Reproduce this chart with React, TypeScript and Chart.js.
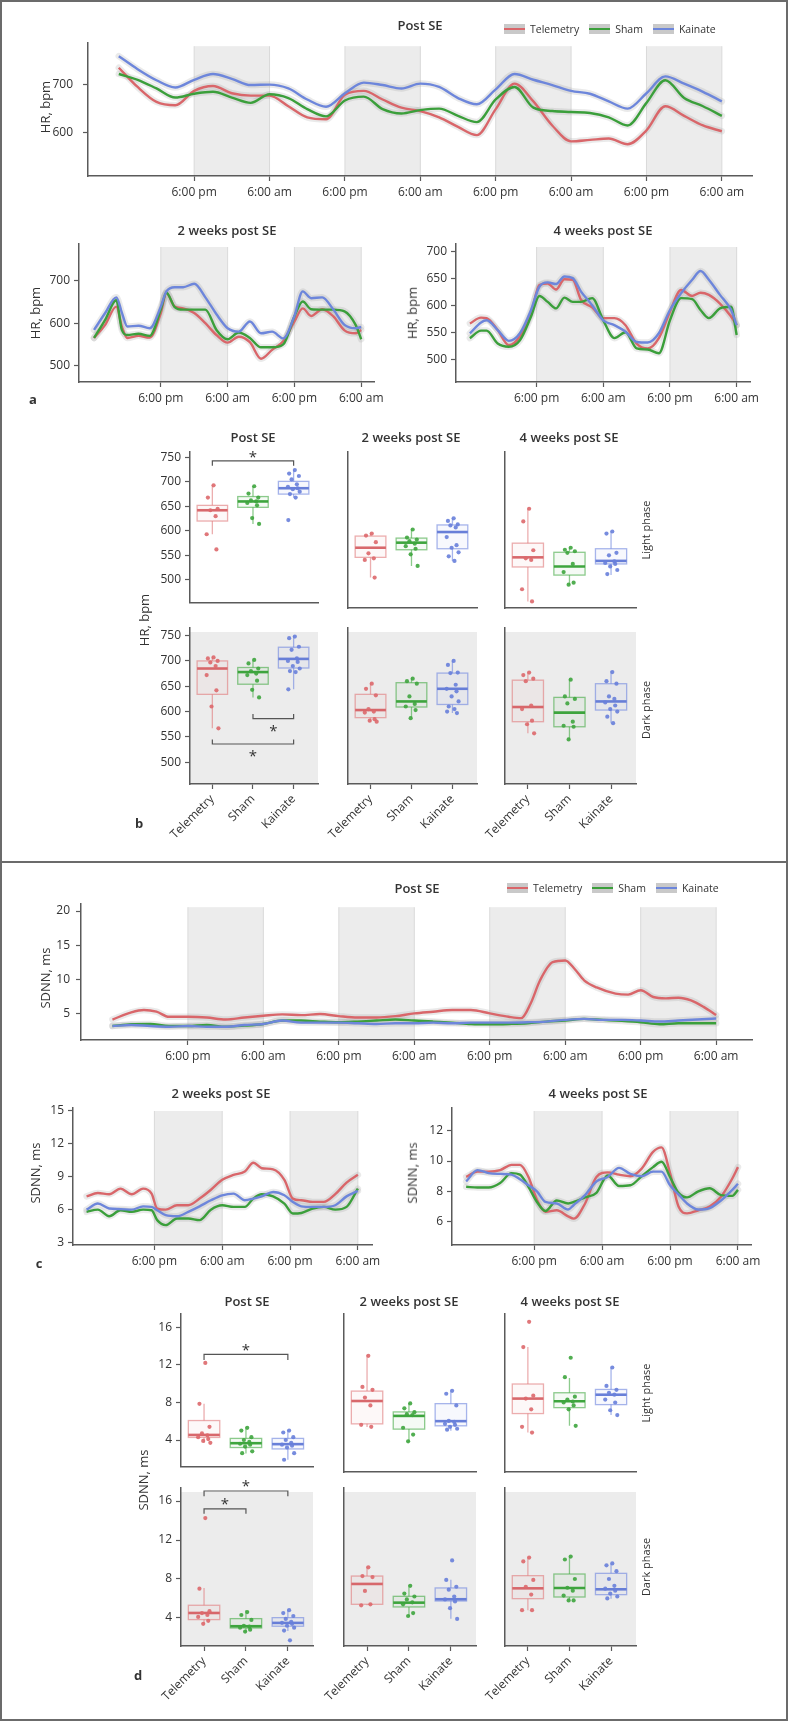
import { useEffect, useRef } from "react";
import { Chart, registerables } from "chart.js";
Chart.register(...registerables);

// ---------- styling constants ----------
const FONT = "'Open Sans', 'DejaVu Sans', Arial, sans-serif";
const INK = "#333333";
const AXIS = "#5a5a5a";
const BAND = "#ececec";
const BAND_EDGE = "#dadada";

const GROUPS = ["Telemetry", "Sham", "Kainate"];
const LINE_COLORS = ["#d9666a", "#3b9f3b", "#6d86db"];
const HALO = "rgba(150,150,150,0.2)";
const POINT_COLORS = ["rgba(221,104,108,0.9)", "rgba(62,165,62,0.9)", "rgba(104,128,218,0.9)"];
const BOX_COLORS = ["rgba(226,130,132,0.65)", "rgba(80,175,80,0.65)", "rgba(120,142,224,0.65)"];
const BOX_FILLS = ["rgba(226,130,132,0.06)", "rgba(80,175,80,0.06)", "rgba(120,142,224,0.06)"];
const MEDIAN_COLORS = ["rgba(214,96,100,0.95)", "rgba(52,160,52,0.95)", "rgba(96,120,214,0.95)"];

// ---------- time axes ----------
const CLOCK_4D_TICKS = [12, 24, 36, 48, 60, 72, 84, 96];
const CLOCK_4D_LABELS = ["6:00 pm", "6:00 am", "6:00 pm", "6:00 am", "6:00 pm", "6:00 am", "6:00 pm", "6:00 am"];
const CLOCK_2D_TICKS = [12, 24, 36, 48];
const CLOCK_2D_LABELS = ["6:00 pm", "6:00 am", "6:00 pm", "6:00 am"];
const NIGHTS_4D = [[12, 24], [36, 48], [60, 72], [84, 96]];
const NIGHTS_2D = [[12, 24], [36, 48]];

// ---------- panel a : HR time courses ----------
const A_TOP_HOURS = [0, 3, 6, 9, 12, 15, 18, 21, 24, 27, 30, 33, 36, 39, 42, 45, 48, 51, 54, 57, 60, 63, 66, 69, 72, 75, 78, 81, 84, 87, 90, 93, 96];
const A_TOP_TEL = [735, 695, 664, 657, 687, 697, 682, 677, 677, 655, 632, 628, 679, 687, 669, 652, 645, 632, 612, 595, 649, 702, 665, 615, 582, 585, 588, 576, 605, 655, 635, 615, 603];
const A_TOP_SHAM = [722, 710, 692, 673, 681, 685, 673, 662, 680, 672, 649, 634, 667, 675, 649, 640, 647, 650, 635, 622, 669, 695, 652, 645, 643, 641, 632, 615, 662, 709, 672, 655, 635];
const A_TOP_KAIN = [759, 732, 709, 694, 710, 722, 712, 699, 700, 692, 669, 654, 682, 704, 699, 692, 702, 695, 672, 659, 690, 722, 710, 699, 687, 681, 665, 650, 682, 717, 702, 685, 665];

const A_LEFT_HOURS = [0, 2, 4, 5, 6, 8, 10, 12, 13, 14.5, 16, 18, 20, 22, 24, 26, 28, 30, 32, 34, 36, 37.5, 39, 41, 43, 45, 47, 48];
const A_LEFT_TEL = [565, 596, 639, 592, 565, 570, 566, 624, 671, 639, 635, 624, 600, 572, 554, 568, 555, 516, 537, 557, 604, 635, 617, 633, 616, 583, 576, 584];
const A_LEFT_SHAM = [565, 608, 654, 584, 572, 575, 570, 632, 672, 638, 632, 632, 632, 584, 562, 578, 565, 543, 543, 550, 616, 651, 633, 632, 632, 628, 596, 562];
const A_LEFT_KAIN = [584, 624, 661, 625, 592, 594, 588, 639, 675, 685, 685, 693, 661, 621, 588, 580, 604, 576, 580, 564, 617, 675, 659, 661, 632, 596, 588, 591];

const A_RIGHT_HOURS = [0, 2, 3, 5, 7, 9, 11, 12.5, 14, 15.5, 17, 18.5, 20, 22, 24, 26, 28, 30, 32, 34, 36, 38, 40, 41.5, 43, 45, 47, 48];
const A_RIGHT_TEL = [567, 578, 577, 555, 527, 543, 586, 638, 641, 630, 649, 648, 611, 597, 577, 577, 564, 530, 521, 540, 589, 629, 618, 624, 620, 604, 580, 564];
const A_RIGHT_SHAM = [540, 554, 554, 530, 524, 536, 580, 618, 607, 595, 615, 607, 607, 614, 573, 540, 551, 521, 519, 512, 573, 614, 612, 592, 577, 595, 598, 546];
const A_RIGHT_KAIN = [549, 569, 573, 555, 535, 549, 592, 635, 643, 640, 654, 651, 626, 601, 573, 564, 552, 533, 532, 549, 592, 623, 648, 664, 648, 620, 592, 564];

// ---------- panel c : SDNN time courses ----------
const C_TOP_TEL_HOURS = [0, 3, 5, 7, 9, 12, 15, 18, 21, 24, 27, 30, 33, 36, 39, 42, 45, 48, 51, 54, 57, 60, 63, 65, 66.5, 68, 70, 72, 73.5, 75, 77, 80, 82, 84, 86, 88, 90, 92, 94, 96];
const C_TOP_TEL = [4.1, 5.15, 5.5, 5.25, 4.5, 4.5, 4.4, 4.1, 4.4, 4.65, 4.85, 4.75, 4.9, 4.6, 4.4, 4.4, 4.6, 5.0, 5.25, 5.5, 5.5, 5.0, 4.5, 4.3, 6.45, 9.85, 12.5, 12.75, 11.5, 9.85, 8.8, 7.9, 7.75, 8.4, 7.4, 7.2, 7.3, 6.9, 5.95, 4.75];
const C_TOP_HOURS = [0, 3, 6, 9, 12, 15, 18, 21, 24, 27, 30, 33, 36, 39, 42, 45, 48, 51, 54, 57, 60, 63, 66, 69, 72, 75, 78, 81, 84, 87, 90, 93, 96];
const C_TOP_SHAM = [3.15, 3.4, 3.45, 3.15, 3.15, 3.3, 3.05, 3.2, 3.45, 3.95, 3.95, 3.8, 3.7, 3.8, 3.95, 4.1, 3.95, 3.8, 3.65, 3.45, 3.4, 3.45, 3.55, 3.8, 3.95, 4.2, 4.05, 3.9, 3.7, 3.4, 3.55, 3.55, 3.55];
const C_TOP_KAIN = [3.15, 3.3, 3.15, 3.05, 3.15, 3.05, 3.05, 3.3, 3.45, 3.95, 3.65, 3.65, 3.65, 3.55, 3.45, 3.55, 3.55, 3.65, 3.55, 3.65, 3.65, 3.65, 3.7, 3.8, 4.05, 4.2, 4.05, 4.05, 3.95, 3.8, 3.95, 4.1, 4.25];

const C_LEFT_HOURS = [0, 2, 4, 6, 8, 10, 11.5, 12.5, 14, 16, 18, 20, 22, 24, 26, 28, 29.5, 31, 33, 35, 36.5, 38, 40, 42, 44, 46, 48];
const C_LEFT_TEL = [7.2, 7.5, 7.4, 7.9, 7.4, 7.9, 7.45, 6.1, 6.0, 6.4, 6.4, 7.0, 7.8, 8.7, 9.15, 9.45, 10.25, 9.75, 9.65, 8.7, 7.0, 6.85, 6.7, 6.7, 7.4, 8.45, 9.15];
const C_LEFT_SHAM = [5.8, 6.0, 5.4, 5.95, 5.8, 6.0, 5.95, 5.05, 4.6, 5.2, 5.2, 5.05, 6.0, 6.4, 6.25, 6.25, 7.0, 7.4, 7.2, 6.55, 5.65, 5.7, 6.1, 6.25, 6.0, 6.25, 7.9];
const C_LEFT_KAIN = [6.0, 6.55, 6.1, 6.05, 6.0, 6.3, 6.25, 5.95, 5.5, 5.4, 5.8, 6.3, 6.85, 7.3, 7.45, 6.85, 7.0, 7.2, 7.6, 7.3, 6.7, 6.3, 6.25, 6.25, 6.4, 7.2, 7.7];

const C_RIGHT_HOURS = [0, 2, 4, 6, 8, 9.5, 11, 12.5, 14, 16, 18, 19, 21, 23, 25, 27, 29, 31, 33, 34.5, 36, 37.5, 39, 41, 43, 45, 47, 48];
const C_RIGHT_TEL = [8.95, 9.3, 9.3, 9.4, 9.75, 9.75, 8.95, 7.45, 6.65, 6.75, 6.35, 6.2, 7.2, 8.95, 9.25, 9.1, 9.0, 9.5, 10.6, 10.9, 9.2, 7.0, 6.55, 6.75, 7.0, 7.65, 8.85, 9.6];
const C_RIGHT_SHAM = [8.3, 8.25, 8.25, 8.55, 9.2, 9.1, 8.3, 7.3, 6.7, 7.4, 7.2, 7.3, 7.6, 7.9, 9.05, 8.35, 8.4, 9.0, 9.6, 9.95, 8.95, 7.9, 7.6, 8.0, 8.2, 7.75, 7.7, 8.1];
const C_RIGHT_KAIN = [8.65, 9.4, 9.2, 9.15, 9.1, 8.8, 8.4, 8.0, 7.3, 7.2, 6.8, 7.1, 7.75, 8.65, 8.95, 9.55, 9.15, 9.0, 9.3, 9.3, 8.4, 7.8, 7.2, 6.8, 6.9, 7.4, 8.1, 8.5];

// ---------- panel b : HR box plots  (box = [q1, median, q3, whiskerLow, whiskerHigh]) ----------
const HR_LIGHT_POST_BOX = [[620, 642, 652, 593, 693], [648, 660, 670, 614, 691], [675, 687, 701, 668, 724]];
const HR_LIGHT_POST_PTS = [[693, 668, 645, 642, 630, 593, 562], [691, 676, 668, 662, 660, 657, 652, 626, 614], [724, 717, 712, 705, 695, 690, 687, 685, 680, 675, 668, 622]];
const HR_LIGHT_2W_BOX = [[553, 572, 595, 513, 600], [568, 582, 591, 536, 608], [570, 603, 617, 546, 630]];
const HR_LIGHT_2W_PTS = [[600, 596, 583, 561, 551, 548, 513], [608, 592, 588, 585, 580, 575, 570, 559, 536], [630, 625, 618, 616, 612, 593, 577, 572, 563, 555, 546]];
const HR_LIGHT_4W_BOX = [[534, 553, 581, 466, 649], [518, 535, 563, 499, 572], [540, 546, 570, 518, 604]];
const HR_LIGHT_4W_PTS = [[649, 624, 567, 551, 548, 490, 466], [572, 568, 565, 562, 540, 524, 503, 499], [604, 600, 562, 557, 545, 542, 540, 535, 528, 520]];
const HR_DARK_POST_BOX = [[634, 685, 700, 567, 709], [654, 678, 687, 628, 703], [686, 704, 727, 644, 749]];
const HR_DARK_POST_PTS = [[707, 705, 700, 697, 690, 672, 642, 610, 567], [702, 695, 685, 680, 675, 672, 661, 643, 628], [748, 745, 728, 722, 705, 700, 698, 690, 685, 680, 678, 644]];
const HR_DARK_2W_BOX = [[588, 603, 634, 580, 656], [609, 620, 657, 587, 666], [614, 645, 676, 597, 701]];
const HR_DARK_2W_PTS = [[655, 645, 632, 605, 600, 598, 585, 582, 580], [665, 660, 655, 630, 615, 610, 603, 587], [700, 692, 677, 676, 653, 645, 640, 630, 620, 610, 605, 600, 597]];
const HR_DARK_4W_BOX = [[580, 609, 662, 557, 677], [570, 598, 628, 545, 664], [603, 620, 655, 577, 680]];
const HR_DARK_4W_PTS = [[677, 672, 665, 660, 612, 605, 582, 575, 557], [663, 630, 625, 616, 580, 572, 570, 545], [678, 660, 655, 630, 625, 618, 612, 605, 600, 590, 577]];
// significance: [fromGroup, toGroup, barValue, endValue, starValue]
const HR_LIGHT_POST_SIG = [[0, 2, 743, 733, 756]];
const HR_DARK_POST_SIG = [[1, 2, 586, 595, 567], [0, 2, 536, 545, 519]];

// ---------- panel d : SDNN box plots ----------
const SD_LIGHT_POST_BOX = [[4.27, 4.54, 6.07, 3.7, 7.85], [3.2, 3.66, 4.17, 2.57, 5.36], [3.05, 3.56, 4.17, 1.9, 5.05]];
const SD_LIGHT_POST_PTS = [[12.2, 7.85, 5.4, 4.7, 4.5, 4.3, 4.1, 3.9, 3.7], [5.3, 5.0, 4.3, 4.0, 3.8, 3.6, 3.5, 3.3, 2.8, 2.6], [5.0, 4.8, 4.3, 4.0, 3.7, 3.5, 3.4, 3.2, 2.6, 1.9]];
const SD_LIGHT_2W_BOX = [[6.1, 8.45, 9.47, 5.77, 13.15], [5.56, 6.92, 7.33, 4.24, 8.25], [5.9, 6.38, 8.18, 5.4, 9.54]];
const SD_LIGHT_2W_PTS = [[13.1, 9.9, 9.6, 8.8, 8.0, 6.0, 5.8], [8.2, 7.7, 7.3, 7.1, 7.0, 5.7, 5.0, 4.3], [9.5, 9.2, 8.0, 6.4, 6.3, 6.1, 6.0, 5.8, 5.6, 5.5]];
const SD_LIGHT_4W_BOX = [[7.16, 8.7, 10.2, 5.2, 14.0], [7.77, 8.42, 9.3, 5.9, 10.83], [8.08, 9.1, 9.64, 7.0, 11.85]];
const SD_LIGHT_4W_PTS = [[16.6, 14.0, 9.0, 8.7, 7.6, 5.8, 5.2], [12.9, 10.9, 8.9, 8.6, 8.4, 8.3, 8.0, 7.6, 5.9], [11.9, 10.0, 9.6, 9.3, 9.1, 8.6, 8.3, 7.5, 7.0]];
const SD_DARK_POST_BOX = [[3.83, 4.51, 5.3, 3.42, 7.08], [2.97, 3.15, 3.93, 2.56, 4.79], [3.15, 3.49, 4.03, 2.67, 4.89]];
const SD_DARK_POST_PTS = [[14.25, 7.0, 4.7, 4.5, 4.3, 4.1, 3.7, 3.4], [4.6, 4.3, 3.8, 3.2, 3.1, 3.0, 2.8, 2.6], [4.8, 4.5, 4.2, 3.9, 3.6, 3.5, 3.4, 3.2, 3.0, 2.7, 1.7]];
const SD_DARK_2W_BOX = [[5.4, 7.49, 8.3, 5.3, 9.3], [5.13, 5.57, 6.22, 4.17, 7.35], [5.74, 5.92, 7.08, 3.93, 7.93]];
const SD_DARK_2W_PTS = [[9.2, 8.3, 8.2, 6.77, 5.4, 5.3], [7.3, 6.5, 6.2, 5.9, 5.6, 5.4, 4.5, 4.2], [9.9, 7.9, 7.2, 6.9, 6.2, 5.9, 5.7, 5.0, 3.9]];
const SD_DARK_4W_BOX = [[5.98, 7.04, 8.34, 4.79, 10.2], [6.15, 7.08, 8.51, 5.81, 10.26], [6.39, 6.94, 8.58, 5.98, 9.57]];
const SD_DARK_4W_PTS = [[10.2, 9.8, 7.9, 7.2, 6.4, 4.8, 4.8], [10.3, 10.0, 8.0, 7.1, 6.8, 6.3, 5.8, 5.8], [9.6, 9.4, 8.8, 8.0, 7.3, 7.0, 6.8, 6.5, 6.2, 6.0]];
const SD_LIGHT_POST_SIG = [[0, 2, 13.1, 12.5, 13.9]];
const SD_DARK_POST_SIG = [[0, 2, 17.03, 16.5, 17.85], [0, 1, 15.2, 14.7, 16.0]];

const HR_BOX_TICKS = [500, 550, 600, 650, 700, 750];
const SD_BOX_TICKS = [4, 8, 12, 16];
const JITTER = [0.03, -0.11, 0.13, -0.05, 0.08, -0.14, 0.1, -0.02, 0.15, -0.09, 0.05, -0.13, 0.11];
const CAT_MIN = -0.55;
const CAT_MAX = 2.6;
const BOX_WIDTH = 0.75;

// ---------- plugins ----------
function bandsPlugin(nights: number[][]) {
  return {
    id: "nightBands",
    beforeDraw(chart: any) {
      const { ctx, chartArea: ca, scales } = chart;
      const x = scales.x;
      ctx.save();
      for (const [a, b] of nights) {
        const x1 = x.getPixelForValue(a);
        const x2 = x.getPixelForValue(b);
        ctx.fillStyle = BAND;
        ctx.fillRect(x1, ca.top + 3, x2 - x1, ca.bottom - ca.top - 3);
        ctx.strokeStyle = BAND_EDGE;
        ctx.lineWidth = 1;
        ctx.beginPath();
        ctx.moveTo(x1, ca.top + 3);
        ctx.lineTo(x1, ca.bottom);
        ctx.moveTo(x2, ca.top + 3);
        ctx.lineTo(x2, ca.bottom);
        ctx.stroke();
      }
      ctx.restore();
    },
  };
}

function boxPlugin(stats: number[][], sig: number[][], dark: boolean) {
  return {
    id: "boxes",
    beforeDraw(chart: any) {
      if (!dark) return;
      const { ctx, chartArea: ca } = chart;
      ctx.save();
      ctx.fillStyle = BAND;
      ctx.fillRect(ca.left, ca.top + 4, ca.right - ca.left, ca.bottom - ca.top - 4);
      ctx.restore();
    },
    beforeDatasetsDraw(chart: any) {
      const { ctx, scales } = chart;
      const x = scales.x;
      const y = scales.y;
      ctx.save();
      stats.forEach((s, g) => {
        const [q1, med, q3, lo, hi] = s;
        const xc = x.getPixelForValue(g);
        const hw = x.getPixelForValue(g + BOX_WIDTH / 2) - xc;
        ctx.strokeStyle = BOX_COLORS[g];
        ctx.lineWidth = 1.3;
        ctx.beginPath();
        ctx.moveTo(xc, y.getPixelForValue(hi));
        ctx.lineTo(xc, y.getPixelForValue(q3));
        ctx.moveTo(xc, y.getPixelForValue(q1));
        ctx.lineTo(xc, y.getPixelForValue(lo));
        ctx.stroke();
        const top = y.getPixelForValue(q3);
        const bot = y.getPixelForValue(q1);
        ctx.fillStyle = BOX_FILLS[g];
        ctx.fillRect(xc - hw, top, 2 * hw, bot - top);
        ctx.strokeRect(xc - hw, top, 2 * hw, bot - top);
        ctx.strokeStyle = MEDIAN_COLORS[g];
        ctx.lineWidth = 2.6;
        ctx.beginPath();
        ctx.moveTo(xc - hw, y.getPixelForValue(med));
        ctx.lineTo(xc + hw, y.getPixelForValue(med));
        ctx.stroke();
      });
      ctx.restore();
    },
    afterDatasetsDraw(chart: any) {
      const { ctx, scales } = chart;
      const x = scales.x;
      const y = scales.y;
      ctx.save();
      for (const [a, b, bar, end, star] of sig) {
        const xa = x.getPixelForValue(a);
        const xb = x.getPixelForValue(b);
        ctx.strokeStyle = "#555";
        ctx.lineWidth = 1.2;
        ctx.beginPath();
        ctx.moveTo(xa, y.getPixelForValue(end));
        ctx.lineTo(xa, y.getPixelForValue(bar));
        ctx.lineTo(xb, y.getPixelForValue(bar));
        ctx.lineTo(xb, y.getPixelForValue(end));
        ctx.stroke();
        ctx.fillStyle = INK;
        ctx.font = `15px ${FONT}`;
        ctx.textAlign = "center";
        ctx.textBaseline = "alphabetic";
        ctx.fillText("*", (xa + xb) / 2, y.getPixelForValue(star) + 8);
      }
      ctx.restore();
    },
  };
}

// ---------- chart factories ----------
type Pad = { L: number; T: number; R: number; B: number };

function axisStyle(showTicks: boolean) {
  return {
    grid: { drawOnChartArea: false, drawTicks: showTicks, tickLength: 5, tickColor: AXIS, tickWidth: 1.2, color: AXIS },
    border: { display: true, color: AXIS, width: 1.5 },
  };
}

function lineChart(o: any) {
  const pad: Pad = o.pad;
  const lines = [2, 1, 0].map((g) => ({
    data: o.series[g].map((v: number, k: number) => ({ x: o.hours[g][k], y: v })),
    borderColor: LINE_COLORS[g],
    borderWidth: 2.4,
    pointRadius: 0,
    cubicInterpolationMode: "monotone",
    fill: false,
  }));
  const halos = [2, 1, 0].map((g) => ({
    data: o.series[g].map((v: number, k: number) => ({ x: o.hours[g][k], y: v })),
    borderColor: HALO,
    borderWidth: 6.5,
    pointRadius: 0,
    cubicInterpolationMode: "monotone",
    borderCapStyle: "round",
    borderJoinStyle: "round",
    fill: false,
  }));
  return {
    type: "line",
    data: { datasets: [...lines, ...halos] },
    options: {
      animation: false,
      responsive: false,
      events: [],
      layout: { autoPadding: false, padding: { left: 0, top: pad.T, right: pad.R, bottom: 0 } },
      plugins: { legend: { display: false }, tooltip: { enabled: false }, title: { display: false } },
      scales: {
        x: {
          type: "linear",
          min: o.xMin,
          max: o.xMax,
          bounds: "data",
          afterBuildTicks: (s: any) => {
            s.ticks = o.xTicks.map((v: number) => ({ value: v }));
          },
          afterFit: (s: any) => {
            s.height = pad.B;
          },
          ticks: {
            autoSkip: false,
            maxRotation: 0,
            minRotation: 0,
            padding: 4,
            color: INK,
            font: { family: FONT, size: 12 },
            callback: (_v: any, i: number) => o.xLabels[i],
          },
          ...axisStyle(true),
        },
        y: {
          type: "linear",
          min: o.yMin,
          max: o.yMax,
          bounds: "data",
          afterBuildTicks: (s: any) => {
            s.ticks = o.yTicks.map((v: number) => ({ value: v }));
          },
          afterFit: (s: any) => {
            s.width = pad.L;
          },
          ticks: { padding: o.yPad, color: INK, font: { family: FONT, size: 12 } },
          ...axisStyle(true),
        },
      },
    },
    plugins: [bandsPlugin(o.nights)],
  };
}

function boxChart(o: any) {
  const pad: Pad = o.pad;
  return {
    type: "scatter",
    data: {
      datasets: o.pts.map((vals: number[], g: number) => ({
        data: vals.map((v, k) => ({ x: g + JITTER[k % JITTER.length], y: v })),
        backgroundColor: POINT_COLORS[g],
        borderWidth: 0,
        pointRadius: 2.1,
      })),
    },
    options: {
      animation: false,
      responsive: false,
      events: [],
      layout: { autoPadding: false, padding: { left: 0, top: pad.T, right: pad.R, bottom: 0 } },
      plugins: { legend: { display: false }, tooltip: { enabled: false } },
      scales: {
        x: {
          type: "linear",
          min: CAT_MIN,
          max: CAT_MAX,
          bounds: "data",
          afterBuildTicks: (s: any) => {
            s.ticks = GROUPS.map((_g, i) => ({ value: i }));
          },
          afterFit: (s: any) => {
            s.height = pad.B;
          },
          ticks: {
            display: o.showX,
            autoSkip: false,
            minRotation: 45,
            maxRotation: 45,
            padding: 3,
            color: INK,
            font: { family: FONT, size: 12 },
            callback: (_v: any, i: number) => GROUPS[i],
          },
          ...axisStyle(o.showX),
        },
        y: {
          type: "linear",
          min: o.yMin,
          max: o.yMax,
          bounds: "data",
          afterBuildTicks: (s: any) => {
            s.ticks = o.yTicks.map((v: number) => ({ value: v }));
          },
          afterFit: (s: any) => {
            s.width = pad.L;
          },
          ticks: { display: o.showY, padding: 4, color: INK, font: { family: FONT, size: 12 } },
          ...axisStyle(o.showY),
        },
      },
    },
    plugins: [boxPlugin(o.stats, o.sig, o.dark)],
  };
}

// ---------- layout of every chart (page pixels of the plot area) ----------
type Spec = { l: number; t: number; r: number; b: number; pad: Pad; make: (pad: Pad) => any };
const LP: Pad = { L: 55, T: 12, R: 35, B: 30 };

const specs: Spec[] = [];
function addLine(l: number, t: number, r: number, b: number, o: any) {
  specs.push({ l, t, r, b, pad: LP, make: (pad) => lineChart({ ...o, pad }) });
}
addLine(88, 38, 752, 176, {
  hours: [A_TOP_HOURS, A_TOP_HOURS, A_TOP_HOURS], series: [A_TOP_TEL, A_TOP_SHAM, A_TOP_KAIN],
  xMin: -4.9, xMax: 100.8, yMin: 510, yMax: 786, yTicks: [600, 700], yPad: 10,
  xTicks: CLOCK_4D_TICKS, xLabels: CLOCK_4D_LABELS, nights: NIGHTS_4D,
});
addLine(79.4, 244, 374, 382, {
  hours: [A_LEFT_HOURS, A_LEFT_HOURS, A_LEFT_HOURS], series: [A_LEFT_TEL, A_LEFT_SHAM, A_LEFT_KAIN],
  xMin: -2.7, xMax: 50.3, yMin: 461, yMax: 787, yTicks: [500, 600, 700], yPad: 4,
  xTicks: CLOCK_2D_TICKS, xLabels: CLOCK_2D_LABELS, nights: NIGHTS_2D,
});
addLine(456, 244, 750, 382, {
  hours: [A_RIGHT_HOURS, A_RIGHT_HOURS, A_RIGHT_HOURS], series: [A_RIGHT_TEL, A_RIGHT_SHAM, A_RIGHT_KAIN],
  xMin: -2.5, xMax: 50.4, yMin: 459, yMax: 714, yTicks: [500, 550, 600, 650, 700], yPad: 4,
  xTicks: CLOCK_2D_TICKS, xLabels: CLOCK_2D_LABELS, nights: NIGHTS_2D,
});
addLine(81.4, 903, 752, 1040, {
  hours: [C_TOP_TEL_HOURS, C_TOP_HOURS, C_TOP_HOURS], series: [C_TOP_TEL, C_TOP_SHAM, C_TOP_KAIN],
  xMin: -5, xMax: 101.7, yMin: 1.1, yMax: 21, yTicks: [5, 10, 15, 20], yPad: 6,
  xTicks: CLOCK_4D_TICKS, xLabels: CLOCK_4D_LABELS, nights: NIGHTS_4D,
});
addLine(73, 1108, 372, 1245, {
  hours: [C_LEFT_HOURS, C_LEFT_HOURS, C_LEFT_HOURS], series: [C_LEFT_TEL, C_LEFT_SHAM, C_LEFT_KAIN],
  xMin: -2.4, xMax: 50.5, yMin: 2.8, yMax: 15.2, yTicks: [3, 6, 9, 12, 15], yPad: 4,
  xTicks: CLOCK_2D_TICKS, xLabels: CLOCK_2D_LABELS, nights: NIGHTS_2D,
});
addLine(452, 1108, 751, 1245, {
  hours: [C_RIGHT_HOURS, C_RIGHT_HOURS, C_RIGHT_HOURS], series: [C_RIGHT_TEL, C_RIGHT_SHAM, C_RIGHT_KAIN],
  xMin: -2.5, xMax: 50.3, yMin: 4.46, yMax: 13.5, yTicks: [6, 8, 10, 12], yPad: 4,
  xTicks: CLOCK_2D_TICKS, xLabels: CLOCK_2D_LABELS, nights: NIGHTS_2D,
});

function addBoxRow(lefts: number[], rights: number[], t: number, b: number, dark: boolean, yMin: number, yMax: number, yTicks: number[], panels: any[]) {
  panels.forEach((p, i) => {
    const pad: Pad = { L: 45, T: 22, R: 12, B: dark ? 72 : 6 };
    specs.push({
      l: lefts[i], t, r: rights[i], b, pad,
      make: (pd) => boxChart({ ...p, pad: pd, dark, showX: dark, showY: i === 0, yMin, yMax, yTicks }),
    });
  });
}
const B_LEFTS = [189.6, 348, 504.7];
const B_RIGHTS = [318, 476.5, 635.7];
const D_LEFTS = [180.6, 343.5, 504.7];
const D_RIGHTS = [313, 475, 635.7];
addBoxRow(B_LEFTS, B_RIGHTS, 452, 608, false, 453, 761, HR_BOX_TICKS, [
  { pts: HR_LIGHT_POST_PTS, stats: HR_LIGHT_POST_BOX, sig: HR_LIGHT_POST_SIG },
  { pts: HR_LIGHT_2W_PTS, stats: HR_LIGHT_2W_BOX, sig: [] },
  { pts: HR_LIGHT_4W_PTS, stats: HR_LIGHT_4W_BOX, sig: [] },
]);
addBoxRow(B_LEFTS, B_RIGHTS, 628, 784, true, 457, 765, HR_BOX_TICKS, [
  { pts: HR_DARK_POST_PTS, stats: HR_DARK_POST_BOX, sig: HR_DARK_POST_SIG },
  { pts: HR_DARK_2W_PTS, stats: HR_DARK_2W_BOX, sig: [] },
  { pts: HR_DARK_4W_PTS, stats: HR_DARK_4W_BOX, sig: [] },
]);
addBoxRow(D_LEFTS, D_RIGHTS, 1314, 1472, false, 1.15, 17.4, SD_BOX_TICKS, [
  { pts: SD_LIGHT_POST_PTS, stats: SD_LIGHT_POST_BOX, sig: SD_LIGHT_POST_SIG },
  { pts: SD_LIGHT_2W_PTS, stats: SD_LIGHT_2W_BOX, sig: [] },
  { pts: SD_LIGHT_4W_PTS, stats: SD_LIGHT_4W_BOX, sig: [] },
]);
addBoxRow(D_LEFTS, D_RIGHTS, 1488, 1645.7, true, 1.12, 17.34, SD_BOX_TICKS, [
  { pts: SD_DARK_POST_PTS, stats: SD_DARK_POST_BOX, sig: SD_DARK_POST_SIG },
  { pts: SD_DARK_2W_PTS, stats: SD_DARK_2W_BOX, sig: [] },
  { pts: SD_DARK_4W_PTS, stats: SD_DARK_4W_BOX, sig: [] },
]);

// ---------- HTML text helpers ----------
function Txt(props: { x: number; y: number; children: any; size?: number; weight?: number; rot?: boolean }) {
  const { x, y, children, size = 12, weight = 400, rot = false } = props;
  return (
    <div
      style={{
        position: "absolute",
        left: x,
        top: y,
        transform: `translate(-50%,-50%)${rot ? " rotate(-90deg)" : ""}`,
        fontSize: size,
        fontWeight: weight,
        whiteSpace: "nowrap",
        color: INK,
        lineHeight: 1.1,
        fontFamily: FONT,
      }}
    >
      {children}
    </div>
  );
}

function Legend(props: { x: number; y: number }) {
  return (
    <div style={{ position: "absolute", left: props.x, top: props.y - 6, display: "flex", alignItems: "center", height: 12, fontFamily: FONT, fontSize: 10.5, color: INK }}>
      {GROUPS.map((g, i) => (
        <div key={g} style={{ display: "flex", alignItems: "center", marginRight: 10 }}>
          <div style={{ width: 21, height: 10, background: "#c9c9c9", position: "relative", marginRight: 5 }}>
            <div style={{ position: "absolute", left: 0, right: 0, top: 4, height: 2, background: LINE_COLORS[i] }} />
          </div>
          <span>{g}</span>
        </div>
      ))}
    </div>
  );
}

export default function App() {
  const refs = useRef<(HTMLCanvasElement | null)[]>([]);
  useEffect(() => {
    const charts = specs.map((s, i) => new Chart(refs.current[i] as HTMLCanvasElement, s.make(s.pad)));
    return () => charts.forEach((c) => c.destroy());
  }, []);

  return (
    <div style={{ position: "absolute", left: 0, top: 0, width: 788, height: 1722, background: "#fff", fontFamily: FONT, overflow: "hidden" }}>
      <div style={{ position: "absolute", left: 0, top: 0, width: 788, height: 863, border: "2px solid #6b6b6b", boxSizing: "border-box" }} />
      <div style={{ position: "absolute", left: 0, top: 861, width: 788, height: 860, border: "2px solid #6b6b6b", boxSizing: "border-box" }} />
      {specs.map((s, i) => {
        const w = Math.round(s.r - s.l + s.pad.L + s.pad.R);
        const h = Math.round(s.b - s.t + s.pad.T + s.pad.B);
        return (
          <canvas
            key={i}
            ref={(el) => {
              refs.current[i] = el;
            }}
            width={w}
            height={h}
            style={{ position: "absolute", left: s.l - s.pad.L, top: s.t - s.pad.T, width: w, height: h }}
          />
        );
      })}

      {/* panel a */}
      <Txt x={420} y={25} size={13} weight={600}>Post SE</Txt>
      <Legend x={504} y={29} />
      <Txt x={45} y={107} size={13} rot>HR, bpm</Txt>
      <Txt x={227} y={230} size={13} weight={600}>2 weeks post SE</Txt>
      <Txt x={603} y={230} size={13} weight={600}>4 weeks post SE</Txt>
      <Txt x={35} y={313} size={13} rot>HR, bpm</Txt>
      <Txt x={412} y={313} size={13} rot>HR, bpm</Txt>
      <Txt x={33} y={399} size={13} weight={700}>a</Txt>

      {/* panel b */}
      <Txt x={253} y={437} size={13} weight={600}>Post SE</Txt>
      <Txt x={411} y={437} size={13} weight={600}>2 weeks post SE</Txt>
      <Txt x={569} y={437} size={13} weight={600}>4 weeks post SE</Txt>
      <Txt x={144} y={620} size={13} rot>HR, bpm</Txt>
      <Txt x={646} y={530} size={11} rot>Light phase</Txt>
      <Txt x={646} y={710} size={11} rot>Dark phase</Txt>
      <Txt x={139} y={823} size={13} weight={700}>b</Txt>

      {/* panel c */}
      <Txt x={417} y={888} size={13} weight={600}>Post SE</Txt>
      <Legend x={507} y={888} />
      <Txt x={45} y={978} size={13} rot>SDNN, ms</Txt>
      <Txt x={221} y={1093} size={13} weight={600}>2 weeks post SE</Txt>
      <Txt x={598} y={1093} size={13} weight={600}>4 weeks post SE</Txt>
      <Txt x={35} y={1173} size={13} rot>SDNN, ms</Txt>
      <Txt x={412} y={1173} size={13} rot>SDNN, ms</Txt>
      <Txt x={39} y={1263} size={13} weight={700}>c</Txt>

      {/* panel d */}
      <Txt x={247} y={1301} size={13} weight={600}>Post SE</Txt>
      <Txt x={409} y={1301} size={13} weight={600}>2 weeks post SE</Txt>
      <Txt x={570} y={1301} size={13} weight={600}>4 weeks post SE</Txt>
      <Txt x={143} y={1480} size={13} rot>SDNN, ms</Txt>
      <Txt x={646} y={1393} size={11} rot>Light phase</Txt>
      <Txt x={646} y={1567} size={11} rot>Dark phase</Txt>
      <Txt x={138} y={1675} size={13} weight={700}>d</Txt>
    </div>
  );
}
